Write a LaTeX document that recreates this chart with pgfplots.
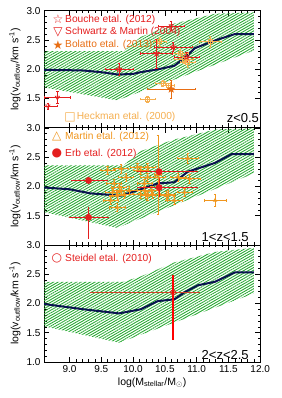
\documentclass[border=0pt]{standalone}
\usepackage{pgfplots}
\pgfplotsset{compat=1.18}
\usepackage{fontspec}
\setmainfont{Liberation Sans}
\newfontfamily\symfont{DejaVu Sans}
\usetikzlibrary{patterns.meta}
\definecolor{myred}{RGB}{228,30,30}
\definecolor{brownred}{RGB}{205,70,40}
\definecolor{myorange}{RGB}{240,150,30}
\definecolor{bolorange}{RGB}{232,110,20}
\definecolor{heckorange}{RGB}{245,175,80}
\definecolor{hatch}{RGB}{40,170,50}
\definecolor{navy}{RGB}{10,20,80}

\pgfdeclareplotmark{ostar}{%
  \pgfpathmoveto{\pgfpointpolar{90}{\pgfplotmarksize}}%
  \pgfpathlineto{\pgfpointpolar{126}{0.42\pgfplotmarksize}}%
  \pgfpathlineto{\pgfpointpolar{162}{\pgfplotmarksize}}%
  \pgfpathlineto{\pgfpointpolar{198}{0.42\pgfplotmarksize}}%
  \pgfpathlineto{\pgfpointpolar{234}{\pgfplotmarksize}}%
  \pgfpathlineto{\pgfpointpolar{270}{0.42\pgfplotmarksize}}%
  \pgfpathlineto{\pgfpointpolar{306}{\pgfplotmarksize}}%
  \pgfpathlineto{\pgfpointpolar{342}{0.42\pgfplotmarksize}}%
  \pgfpathlineto{\pgfpointpolar{18}{\pgfplotmarksize}}%
  \pgfpathlineto{\pgfpointpolar{54}{0.42\pgfplotmarksize}}%
  \pgfpathclose\pgfusepathqstroke}
\pgfdeclareplotmark{fstar}{%
  \pgfpathmoveto{\pgfpointpolar{90}{\pgfplotmarksize}}%
  \pgfpathlineto{\pgfpointpolar{126}{0.42\pgfplotmarksize}}%
  \pgfpathlineto{\pgfpointpolar{162}{\pgfplotmarksize}}%
  \pgfpathlineto{\pgfpointpolar{198}{0.42\pgfplotmarksize}}%
  \pgfpathlineto{\pgfpointpolar{234}{\pgfplotmarksize}}%
  \pgfpathlineto{\pgfpointpolar{270}{0.42\pgfplotmarksize}}%
  \pgfpathlineto{\pgfpointpolar{306}{\pgfplotmarksize}}%
  \pgfpathlineto{\pgfpointpolar{342}{0.42\pgfplotmarksize}}%
  \pgfpathlineto{\pgfpointpolar{18}{\pgfplotmarksize}}%
  \pgfpathlineto{\pgfpointpolar{54}{0.42\pgfplotmarksize}}%
  \pgfpathclose\pgfusepathqfillstroke}

\tikzset{
  leg/.style={anchor=west, inner sep=0pt, font=\fontsize{10.2}{12}\selectfont},
  sym/.style={inner sep=0pt, font=\symfont\fontsize{12}{12}\selectfont},
}
\pgfplotsset{
  panel/.style={
    scale only axis, width=216pt, height=117pt,
    xmin=8.6, xmax=12.0, ymin=1.0, ymax=3.0,
    xtick={9,9.5,10,10.5,11,11.5,12}, minor x tick num=4,
    ytick={1.5,2,2.5,3}, minor y tick num=4,
    tick align=inside, major tick length=5pt, minor tick length=2.5pt,
    tick style={black, line width=0.5pt},
    /pgf/number format/assume math mode=true,
    yticklabel style={/pgf/number format/.cd, fixed, fixed zerofill, precision=1},
    xticklabel style={/pgf/number format/.cd, fixed, fixed zerofill, precision=1},
    tick label style={font=\fontsize{10}{12}\selectfont},
    ylabel={log(v\textsubscript{outflow}/km s\textsuperscript{-1})},
    ylabel style={at={(axis description cs:-0.135,0.5)}, anchor=center, font=\fontsize{10.5}{12}\selectfont},
    axis line style={line width=0.7pt},
    every axis plot/.append style={line width=0.6pt},
    errs/.style={error bars/.cd, x dir=both, x explicit, y dir=both, y explicit,
      error bar style={line width=0.6pt}, error mark options={rotate=90, mark size=1.2pt}},
  },
  band/.style={draw=none, pattern={Lines[angle=30,distance=2.3pt,line width=0.9pt]}, pattern color=hatch},
  med/.style={navy, line width=2pt, no marks},
}

\begin{document}
\begin{tikzpicture}
\useasboundingbox (-44pt,-36pt) rectangle (237pt,361.7pt);

% ---------------- top panel z<0.5
\begin{axis}[panel, at={(0pt,234pt)}, anchor=south west, xticklabels={}]
\addplot[band] coordinates {(8.6,2.31) (9.85,2.31) (10.12,2.55) (10.65,2.78) (11.3,2.95) (11.9,2.97)
  (11.9,2.32) (9.75,1.47) (8.6,1.69)} -- cycle;
\addplot[med] coordinates {(8.6,1.99) (9.2,1.98) (9.5,1.95) (9.76,1.91) (10.0,1.92) (10.12,1.95) (10.4,2.0)
  (10.65,2.06) (10.86,2.24) (10.97,2.36) (11.34,2.51) (11.6,2.60) (11.9,2.60)};
\node[myred, sym] at (axis description cs:0.065,0.925) {☆};
\node[myred, leg] at (axis description cs:0.097,0.925) {Bouche etal. (2012)};
\node[myred, sym] at (axis description cs:0.065,0.816) {▽};
\node[myred, leg] at (axis description cs:0.097,0.816) {Schwartz \& Martin (2004)};
\node[bolorange, sym] at (axis description cs:0.065,0.707) {★};
\node[bolorange, leg] at (axis description cs:0.097,0.707) {Bolatto etal. (2013)};
\node[heckorange, sym] at (axis description cs:0.12,0.09) {□};
\node[heckorange, leg] at (axis description cs:0.151,0.09) {Heckman etal. (2000)};
\node[anchor=base west, font=\fontsize{13}{14}\selectfont] at (axis description cs:0.829,0.045) {z<0.5};
% Heckman
\addplot[heckorange, only marks, mark=square, mark size=2pt, errs] table[x=x,y=y,x error=ex,y error=ey,row sep=\\]{
x y ex ey\\
10.23 1.49 0.12 0.05\\
10.47 1.76 0.12 0.05\\
10.55 1.72 0.10 0.04\\
10.74 2.27 0.12 0.08\\
10.80 2.17 0.15 0.06\\
10.86 2.12 0.12 0.08\\
11.21 2.47 0.17 0.10\\
10.42 2.47 0.10 0.07\\
};
% Bolatto
\addplot[bolorange, only marks, mark=fstar, mark size=3.5pt, errs] table[x=x,y=y,x error=ex,y error=ey,row sep=\\]{
x y ex ey\\
10.6 1.66 0.37 0.16\\
};
% Bouche
\addplot[myred, only marks, mark=ostar, mark size=3pt, errs] table[x=x,y=y,x error=ex,y error=ey,row sep=\\]{
x y ex ey\\
9.78 2.00 0.22 0.11\\
10.37 2.27 0.25 0.25\\
10.63 2.38 0.30 0.08\\
10.84 2.21 0.20 0.08\\
};
% Schwartz & Martin
\addplot[myred, only marks, mark=triangle, mark options={rotate=180}, mark size=2.5pt, errs] table[x=x,y=y,x error=ex,y error=ey,row sep=\\]{
x y ex ey\\
8.81 1.52 0.20 0.10\\
8.66 1.37 0.15 0.05\\
10.60 2.74 0.21 0.08\\
};
\end{axis}

% ---------------- middle panel 1<z<1.5
\begin{axis}[panel, at={(0pt,117pt)}, anchor=south west, xticklabels={}]
\addplot[band] coordinates {(8.6,2.36) (9.85,2.36) (10.12,2.6) (10.65,2.8) (11.3,2.97) (11.9,2.99)
  (11.9,2.22) (9.75,1.29) (8.6,1.56)} -- cycle;
\addplot[med] coordinates {(8.6,1.98) (9.0,1.95) (9.33,1.88) (9.81,1.84) (10.12,1.95) (10.39,2.05) (10.65,2.07)
  (10.86,2.25) (11.29,2.40) (11.55,2.55) (11.9,2.55)};
\node[myorange, sym] at (axis description cs:0.059,0.923) {△};
\node[myorange, leg] at (axis description cs:0.097,0.923) {Martin etal. (2012)};
\node[myred, sym] at (axis description cs:0.059,0.781) {●};
\node[myred, leg] at (axis description cs:0.097,0.781) {Erb etal. (2012)};
\node[anchor=base west, font=\fontsize{13}{14}\selectfont] at (axis description cs:0.713,0.03) {1<z<1.5};
% Martin
\addplot[myorange, only marks, mark=triangle, mark size=2pt, errs] table[x=x,y=y,x error=ex,y error=ey,row sep=\\]{
x y ex ey\\
9.60 2.28 0.12 0.07\\
9.81 2.30 0.12 0.07\\
10.07 2.33 0.12 0.07\\
9.89 2.16 0.12 0.07\\
9.70 2.05 0.12 0.07\\
9.78 1.99 0.12 0.07\\
9.68 1.90 0.12 0.07\\
9.75 1.84 0.12 0.07\\
9.86 1.87 0.12 0.07\\
9.94 1.93 0.12 0.07\\
9.81 1.93 0.12 0.07\\
9.65 1.76 0.12 0.07\\
9.75 1.64 0.12 0.07\\
10.18 1.93 0.12 0.07\\
10.23 1.84 0.12 0.07\\
10.29 1.93 0.12 0.07\\
10.12 1.87 0.12 0.07\\
10.55 1.87 0.12 0.07\\
10.65 1.76 0.12 0.07\\
10.12 2.28 0.12 0.07\\
10.23 2.33 0.12 0.07\\
10.39 2.16 0.12 0.07\\
10.71 2.16 0.12 0.07\\
10.86 2.48 0.17 0.08\\
10.89 2.13 0.17 0.07\\
10.23 2.16 0.12 0.07\\
10.20 1.87 0.12 0.07\\
10.31 1.87 0.12 0.07\\
10.81 1.90 0.12 0.07\\
10.52 1.84 0.12 0.07\\
11.29 1.76 0.17 0.10\\
10.18 2.05 0.12 0.07\\
10.39 2.20 0.05 0.68\\
};
% Erb
\addplot[myred, only marks, mark=*, mark size=3pt, line width=0.8pt,
  error bars/.cd, x dir=both, x explicit, y dir=both, y explicit, error mark=none, error bar style={myred, line width=1pt}]
  table[x=x,y=y,x error plus=exp,x error minus=exm,y error plus=eyp,y error minus=eym,row sep=\\]{
x y exp exm eyp eym\\
9.30 2.10 0.30 0.28 0.00 0.00\\
9.30 1.47 0.32 0.30 0.17 0.37\\
10.41 2.25 0.61 0.34 0.00 0.00\\
10.41 1.98 0.61 0.34 0.18 0.16\\
};
\end{axis}

% ---------------- bottom panel 2<z<2.5
\begin{axis}[panel, at={(0pt,0pt)}, anchor=south west, ytick={1,1.5,2,2.5,3},
  xlabel={log(M\textsubscript{stellar}/M\textsubscript{$\odot$})},
  xlabel style={font=\fontsize{10.5}{12}\selectfont, yshift=2pt}]
\addplot[band] coordinates {(8.6,2.37) (9.85,2.37) (10.12,2.46) (10.65,2.7) (11.3,2.88) (11.9,2.95)
  (11.9,2.17) (9.78,1.33) (8.6,1.61)} -- cycle;
\addplot[med] coordinates {(8.6,1.99) (9.22,1.90) (9.78,1.83) (10.12,1.90) (10.39,2.04) (10.65,2.07)
  (10.81,2.19) (11.02,2.31) (11.29,2.37) (11.6,2.53) (11.9,2.53)};
\node[myred, sym] at (axis description cs:0.059,0.884) {○};
\node[myred, leg] at (axis description cs:0.097,0.884) {Steidel etal. (2010)};
\node[anchor=base west, font=\fontsize{13}{14}\selectfont] at (axis description cs:0.713,0.025) {2<z<2.5};
% Steidel: error ranges drawn as lines through the data values
\addplot[brownred, line width=1.1pt, no marks] coordinates {(9.33,2.19) (11.05,2.19)};
\addplot[red, line width=1.4pt, no marks] coordinates {(10.63,1.38) (10.63,2.48)};
\addplot[myred, only marks, mark=o, mark size=2.5pt, line width=0.8pt] coordinates {(10.63,2.19)};
\end{axis}
\end{tikzpicture}
\end{document}
